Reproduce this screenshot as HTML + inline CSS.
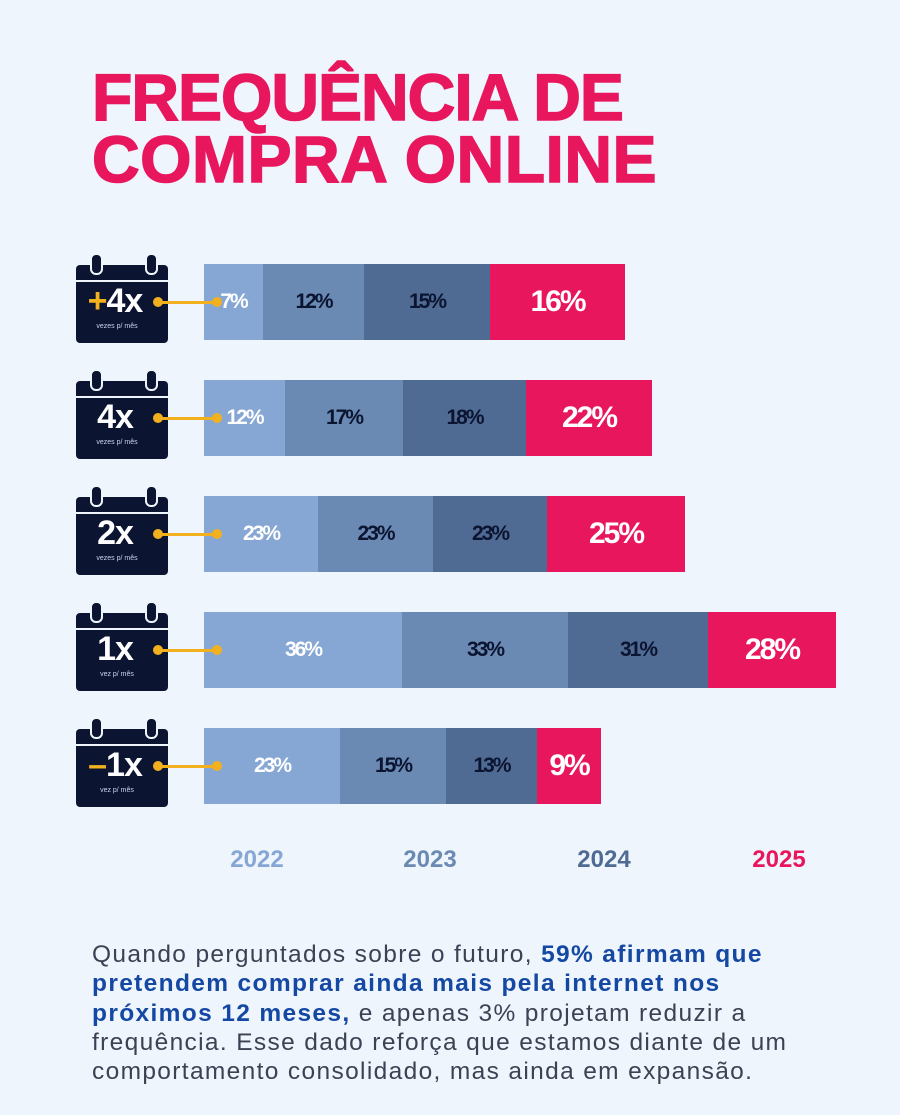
<!DOCTYPE html><html><head><style>
body{margin:0;width:900px;height:1115px;background:#eff5fd;font-family:"Liberation Sans",sans-serif;position:relative;overflow:hidden}
.t{position:absolute;left:92px;top:66px;color:#e8175d;font-weight:bold;font-size:66px;line-height:62px;-webkit-text-stroke:1.5px #e8175d}
.seg{position:absolute;display:flex;align-items:center;justify-content:center;font-weight:bold;letter-spacing:-2px;font-size:21px}
.cal{position:absolute;left:76px;width:92px;height:78px;background:#0b1430;border-radius:4px}
.cal:before{content:"";position:absolute;left:0;right:0;top:15px;height:2px;background:#eff5fd}
.ring{position:absolute;top:-12px;width:9px;height:18px;border:2px solid #eff5fd;border-radius:6px;background:#0b1430}
.big{position:absolute;left:0;right:14px;top:17px;text-align:center;color:#fff;font-weight:bold;font-size:34px;letter-spacing:-1px}
.sm{position:absolute;left:0;right:10px;top:58px;text-align:center;color:#c9d6ee;font-size:7px}
.ln{position:absolute;height:3px;background:#f2b01e}
.dot{position:absolute;width:10px;height:10px;border-radius:50%;background:#f2b01e}
.yr{position:absolute;top:846px;font-weight:bold;font-size:24px;width:120px;text-align:center}
.p{position:absolute;left:92px;top:940px;width:780px;font-size:24.5px;letter-spacing:1.35px;line-height:29.3px;color:#3c4253}
.p b{color:#1448a3}
</style></head><body>
<div class="t"><span style="letter-spacing:-1px">FREQUÊNCIA DE</span><br><span style="letter-spacing:0.5px">COMPRA ONLINE</span></div>
<div id="c"></div>
<div class="yr" style="left:197px;color:#86a7d4">2022</div>
<div class="yr" style="left:370px;color:#6a8ab4">2023</div>
<div class="yr" style="left:544px;color:#4f6a93">2024</div>
<div class="yr" style="left:719px;color:#e8175d">2025</div>
<div class="p">Quando perguntados sobre o futuro, <b>59% afirmam que<br>pretendem comprar ainda mais pela internet nos<br>próximos 12 meses,</b> e apenas 3% projetam reduzir a<br>frequência. Esse dado reforça que estamos diante de um<br>comportamento consolidado, mas ainda em expansão.</div>
<script>
var rows=[[264,[204,263,364,490,625],["7%","12%","15%","16%"],"+4x","vezes p/ mês"],
[380,[204,285,403,526,652],["12%","17%","18%","22%"],"4x","vezes p/ mês"],
[496,[204,318,433,547,685],["23%","23%","23%","25%"],"2x","vezes p/ mês"],
[612,[204,402,568,708,836],["36%","33%","31%","28%"],"1x","vez p/ mês"],
[728,[204,340,446,537,601],["23%","15%","13%","9%"],"-1x","vez p/ mês"]];
var col=["#86a7d4","#6a8ab4","#4f6a93","#e8175d"],tc=["#fff","#0b1430","#0b1430","#fff"];
var h="";
rows.forEach(function(r){var y=r[0];
for(var i=0;i<4;i++){h+='<div class="seg" style="left:'+r[1][i]+'px;width:'+(r[1][i+1]-r[1][i])+'px;top:'+y+'px;height:76px;background:'+col[i]+';color:'+tc[i]+(i==3?';font-size:30px':'')+'">'+r[2][i]+'</div>';}
var lab=r[3],pre="";
if(lab[0]=="+"){pre='<span style="color:#f2b01e">+</span>';lab=lab.slice(1)}
if(lab[0]=="-"){pre='<span style="color:#f2b01e">–</span>';lab=lab.slice(1)}
h+='<div class="cal" style="top:'+(y+1)+'px"><div class="ring" style="left:14px"></div><div class="ring" style="left:69px"></div><div class="big">'+pre+lab+'</div><div class="sm">'+r[4]+'</div></div>';
h+='<div class="ln" style="left:157px;width:60px;top:'+(y+37)+'px"></div><div class="dot" style="left:153px;top:'+(y+33)+'px"></div><div class="dot" style="left:212px;top:'+(y+33)+'px"></div>';
});
document.getElementById("c").innerHTML=h;
</script>
</body></html>
